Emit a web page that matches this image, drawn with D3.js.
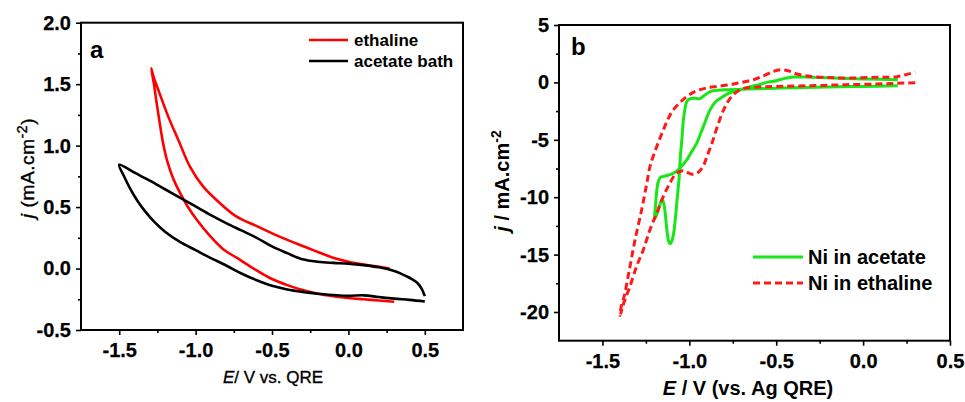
<!DOCTYPE html>
<html>
<head>
<meta charset="utf-8">
<script src="https://cdn.jsdelivr.net/npm/d3@7/dist/d3.min.js"></script>
<style>
  html, body { margin: 0; padding: 0; background: #fff; }
  svg { display: block; }
  text { font-family: "Liberation Sans", Arial, sans-serif; fill: #000; }
</style>
</head>
<body>
<svg id="chart" width="965" height="402"></svg>
<script>
// ---------- Panel a: cyclic voltammograms, j (mA cm-2) vs E (V vs. QRE) ----------
// Ethaline: return branch (from +0.27 V up to the vertex) then cathodic branch back to +0.3 V
const ethalineE = [0.27, 0.2, 0.1, 0.0, -0.105, -0.2, -0.324, -0.469, -0.6, -0.731, -0.84, -0.95, -1.037, -1.113, -1.179, -1.244, -1.275, -1.29,
                   -1.272, -1.255, -1.236, -1.213, -1.184, -1.148, -1.102, -1.05, -0.991, -0.906, -0.821, -0.729, -0.6, -0.5, -0.4, -0.3, -0.2, -0.1, 0.0, 0.1, 0.2, 0.3];
const ethalineJ = [0.0, 0.015, 0.032, 0.055, 0.09, 0.135, 0.195, 0.27, 0.345, 0.422, 0.531, 0.666, 0.829, 1.046, 1.236, 1.453, 1.56, 1.63,
                   1.494, 1.347, 1.193, 1.022, 0.867, 0.737, 0.615, 0.501, 0.395, 0.265, 0.159, 0.086, -0.015, -0.085, -0.135, -0.175, -0.205, -0.225, -0.24, -0.25, -0.26, -0.27];
// Acetate bath
const acetateE = [0.5, 0.48, 0.45, 0.4, 0.35, 0.3, 0.2, 0.1, 0.0, -0.1, -0.2, -0.3, -0.4, -0.5, -0.6, -0.7, -0.8, -0.9, -1.0, -1.1, -1.2, -1.3, -1.4, -1.5,
                  -1.47, -1.43, -1.38, -1.33, -1.27, -1.2, -1.1, -1.0, -0.9, -0.8, -0.7, -0.6, -0.5, -0.4, -0.3, -0.2, -0.1, 0.0, 0.1, 0.2, 0.3, 0.4, 0.5];
const acetateJ = [-0.225, -0.165, -0.115, -0.075, -0.045, -0.02, 0.01, 0.028, 0.04, 0.046, 0.055, 0.075, 0.125, 0.18, 0.25, 0.31, 0.37, 0.435, 0.505, 0.575, 0.645, 0.715, 0.78, 0.845,
                  0.755, 0.655, 0.55, 0.465, 0.38, 0.30, 0.215, 0.15, 0.085, 0.025, -0.04, -0.095, -0.14, -0.17, -0.19, -0.205, -0.215, -0.222, -0.218, -0.232, -0.245, -0.255, -0.268];

// ---------- Panel b: Ni deposition, j (mA cm-2) vs E (V vs. Ag QRE) ----------
const niAcetateE = [0.2, 0.0, -0.2, -0.4, -0.6, -0.7, -0.8, -0.85, -0.88, -0.91, -0.94, -0.967, -0.995, -1.014, -1.025, -1.034, -1.043, -1.053, -1.058, -1.068, -1.08, -1.092, -1.103, -1.112, -1.12, -1.128, -1.135, -1.142, -1.15, -1.158, -1.168, -1.18, -1.19, -1.2,
                    -1.195, -1.187, -1.178, -1.165, -1.149, -1.111, -1.08, -1.053, -1.014, -0.985, -0.957, -0.919, -0.88, -0.85, -0.823, -0.78, -0.746, -0.7, -0.669, -0.6, -0.554, -0.5, -0.45, -0.4, -0.3, -0.1, 0.0, 0.2];
const niAcetateJ = [-0.3, -0.35, -0.4, -0.47, -0.55, -0.6, -0.65, -0.7, -0.8, -1.1, -1.42, -1.38, -1.42, -1.65, -2.3, -3.24, -4.98, -6.72, -8.2, -9.8, -11.8, -13.3, -13.9, -14.05, -13.8, -13.0, -12.0, -11.0, -10.4, -10.2, -10.6, -11.2, -11.6, -11.9,
                    -10.8, -9.4, -8.6, -8.25, -8.2, -8.03, -7.8, -7.45, -6.72, -6.0, -5.27, -3.83, -2.37, -1.7, -1.4, -1.0, -0.8, -0.6, -0.45, -0.2, 0.0, 0.15, 0.35, 0.47, 0.45, 0.35, 0.3, 0.23];
const niEthalineE = [0.3, 0.2, 0.08, -0.1, -0.3, -0.5, -0.6, -0.68, -0.72, -0.76, -0.8, -0.84, -0.87, -0.9, -0.92, -0.94, -0.96, -0.986, -1.01, -1.034, -1.06, -1.082, -1.111, -1.149, -1.187, -1.226, -1.264, -1.303, -1.341, -1.37, -1.385, -1.398,
                     -1.392, -1.38, -1.37, -1.355, -1.341, -1.312, -1.274, -1.245, -1.226, -1.187, -1.149, -1.12, -1.091, -1.05, -1.014, -0.975, -0.938, -0.9, -0.842, -0.765, -0.7, -0.631, -0.57, -0.516, -0.467, -0.43, -0.381, -0.304, -0.2, -0.112, 0.08, 0.195, 0.253, 0.3];
const niEthalineJ = [-0.03, -0.08, -0.14, -0.2, -0.29, -0.35, -0.4, -0.5, -0.75, -1.3, -2.3, -3.9, -5.3, -6.5, -7.3, -7.7, -7.95, -8.0, -7.85, -7.7, -7.8, -8.03, -8.75, -9.91, -11.36, -12.81, -14.55, -16.0, -17.74, -18.9, -19.6, -20.3,
                     -19.5, -18.9, -18.3, -17.1, -16.0, -13.68, -11.07, -8.8, -7.3, -5.57, -4.11, -3.1, -2.37, -1.7, -1.22, -0.85, -0.635, -0.48, -0.35, -0.2, 0.0, 0.235, 0.6, 0.96, 1.1, 1.0, 0.73, 0.52, 0.42, 0.38, 0.44, 0.5, 0.7, 0.9];

// Tick values
const aXMajor = [-1.5, -1.0, -0.5, 0.0, 0.5];
const aXMinor = [-1.25, -0.75, -0.25, 0.25];
const aYMajor = [-0.5, 0.0, 0.5, 1.0, 1.5, 2.0];
const aYMinor = [-0.25, 0.25, 0.75, 1.25, 1.75];
const bXMajor = [-1.5, -1.0, -0.5, 0.0, 0.5];
const bXMinor = [-1.25, -0.75, -0.25, 0.25];
const bYMajor = [-20, -15, -10, -5, 0, 5];
const bYMinor = [-17.5, -12.5, -7.5, -2.5, 2.5];

const svg = d3.select("#chart");
const zip = (xs, ys) => xs.map((x, i) => [x, ys[i]]);

function drawFrame(x, y, xMaj, xMin, yMaj, yMin, xFmt, yFmt) {
  const g = svg.append("g");
  const [x0, x1] = x.range(), [y0, y1] = y.range();
  const ax = g.append("g").attr("transform", `translate(0,${y0})`)
    .call(d3.axisBottom(x).tickValues(xMaj).tickSize(5).tickPadding(8).tickFormat(xFmt));
  const axm = g.append("g").attr("transform", `translate(0,${y0})`)
    .call(d3.axisBottom(x).tickValues(xMin).tickSize(3).tickFormat(""));
  const ay = g.append("g").attr("transform", `translate(${x0},0)`)
    .call(d3.axisLeft(y).tickValues(yMaj).tickSize(5).tickPadding(5).tickFormat(yFmt));
  const aym = g.append("g").attr("transform", `translate(${x0},0)`)
    .call(d3.axisLeft(y).tickValues(yMin).tickSize(3).tickFormat(""));
  [ax, axm, ay, aym].forEach(a => {
    a.select(".domain").remove();
    a.selectAll("line").attr("stroke", "#000").attr("stroke-width", 1.6);
    a.selectAll("text").attr("font-size", 20).attr("font-weight", "bold")
      .attr("font-family", '"Liberation Sans", Arial, sans-serif').attr("fill", "#000")
      .attr("stroke", "#000").attr("stroke-width", 0.25);
  });
  g.append("rect").attr("x", x0).attr("y", y1).attr("width", x1 - x0).attr("height", y0 - y1)
    .attr("fill", "none").attr("stroke", "#000").attr("stroke-width", 2);
  return g;
}

// ---------------- Panel a ----------------
const xA = d3.scaleLinear().domain([-1.75, 0.75]).range([81, 463]);
const yA = d3.scaleLinear().domain([-0.5, 2.0]).range([330, 22.7]);
const lineA = d3.line().x(d => xA(d[0])).y(d => yA(d[1])).curve(d3.curveCatmullRom.alpha(0.5));

const gA = svg.append("g");
gA.append("path").datum(zip(ethalineE, ethalineJ)).attr("d", lineA)
  .attr("fill", "none").attr("stroke", "#ff0000").attr("stroke-width", 2.6).attr("stroke-linejoin", "round");
gA.append("path").datum(zip(acetateE, acetateJ)).attr("d", lineA)
  .attr("fill", "none").attr("stroke", "#000").attr("stroke-width", 2.6).attr("stroke-linejoin", "round");
drawFrame(xA, yA, aXMajor, aXMinor, aYMajor, aYMinor, d => d.toFixed(1), d => d.toFixed(1));

// legend a
const legA = [["ethaline", "#ff0000", 40], ["acetate bath", "#000", 61]];
legA.forEach(([name, col, yy]) => {
  svg.append("line").attr("x1", 309).attr("x2", 348).attr("y1", yy).attr("y2", yy)
    .attr("stroke", col).attr("stroke-width", 2.6);
  svg.append("text").attr("x", 354).attr("y", yy).attr("dy", "0.35em")
    .attr("font-size", 17).attr("font-weight", "bold").text(name);
});
svg.append("text").attr("x", 90).attr("y", 58).attr("font-size", 24).attr("font-weight", "bold").text("a");

// axis titles a
const xtA = svg.append("text").attr("x", 273).attr("y", 383).attr("text-anchor", "middle")
  .attr("font-size", 17).attr("stroke", "#000").attr("stroke-width", 0.35);
xtA.append("tspan").attr("font-style", "italic").text("E");
xtA.append("tspan").text("/ V vs. QRE");
const ytA = svg.append("text").attr("transform", "translate(34,168) rotate(-90)").attr("text-anchor", "middle")
  .attr("font-size", 19).attr("letter-spacing", 0.6).attr("stroke", "#000").attr("stroke-width", 0.4);
ytA.append("tspan").attr("font-style", "italic").text("j");
ytA.append("tspan").text(" (mA.cm");
ytA.append("tspan").attr("font-size", 14).attr("dy", "-7").text("-2");
ytA.append("tspan").attr("dy", "7").text(")");

// ---------------- Panel b ----------------
const xB = d3.scaleLinear().domain([-1.75, 0.5]).range([559, 950]);
const yB = d3.scaleLinear().domain([-22.5, 5]).range([340.7, 25]);
const lineB = d3.line().x(d => xB(d[0])).y(d => yB(d[1])).curve(d3.curveCatmullRom.alpha(0.5));

const gB = svg.append("g");
gB.append("path").datum(zip(niAcetateE, niAcetateJ)).attr("d", lineB)
  .attr("fill", "none").attr("stroke", "#19e619").attr("stroke-width", 3).attr("stroke-linejoin", "round");
gB.append("path").datum(zip(niEthalineE, niEthalineJ)).attr("d", lineB)
  .attr("fill", "none").attr("stroke", "#ff1a1a").attr("stroke-width", 3).attr("stroke-dasharray", "7,4");
drawFrame(xB, yB, bXMajor, bXMinor, bYMajor, bYMinor, d => d.toFixed(1), d => String(d));

// legend b
const legB = [["Ni in acetate", "#19e619", 257, null], ["Ni in ethaline", "#ff1a1a", 283, "7,4"]];
legB.forEach(([name, col, yy, dash]) => {
  svg.append("line").attr("x1", 753).attr("x2", 803).attr("y1", yy).attr("y2", yy)
    .attr("stroke", col).attr("stroke-width", 3).attr("stroke-dasharray", dash);
  svg.append("text").attr("x", 808).attr("y", yy).attr("dy", "0.35em")
    .attr("font-size", 20).attr("font-weight", "bold").text(name);
});
svg.append("text").attr("x", 571).attr("y", 55).attr("font-size", 24).attr("font-weight", "bold").text("b");

const xtB = svg.append("text").attr("x", 748).attr("y", 395).attr("text-anchor", "middle")
  .attr("font-size", 20).attr("font-weight", "bold");
xtB.append("tspan").attr("font-style", "italic").text("E");
xtB.append("tspan").text(" / V (vs. Ag QRE)");
const ytB = svg.append("text").attr("transform", "translate(509,181) rotate(-90)").attr("text-anchor", "middle")
  .attr("font-size", 20).attr("font-weight", "bold");
ytB.append("tspan").attr("font-style", "italic").text("j");
ytB.append("tspan").text(" / mA.cm");
ytB.append("tspan").attr("font-size", 14).attr("dy", "-8").text("-2");
</script>
</body>
</html>
